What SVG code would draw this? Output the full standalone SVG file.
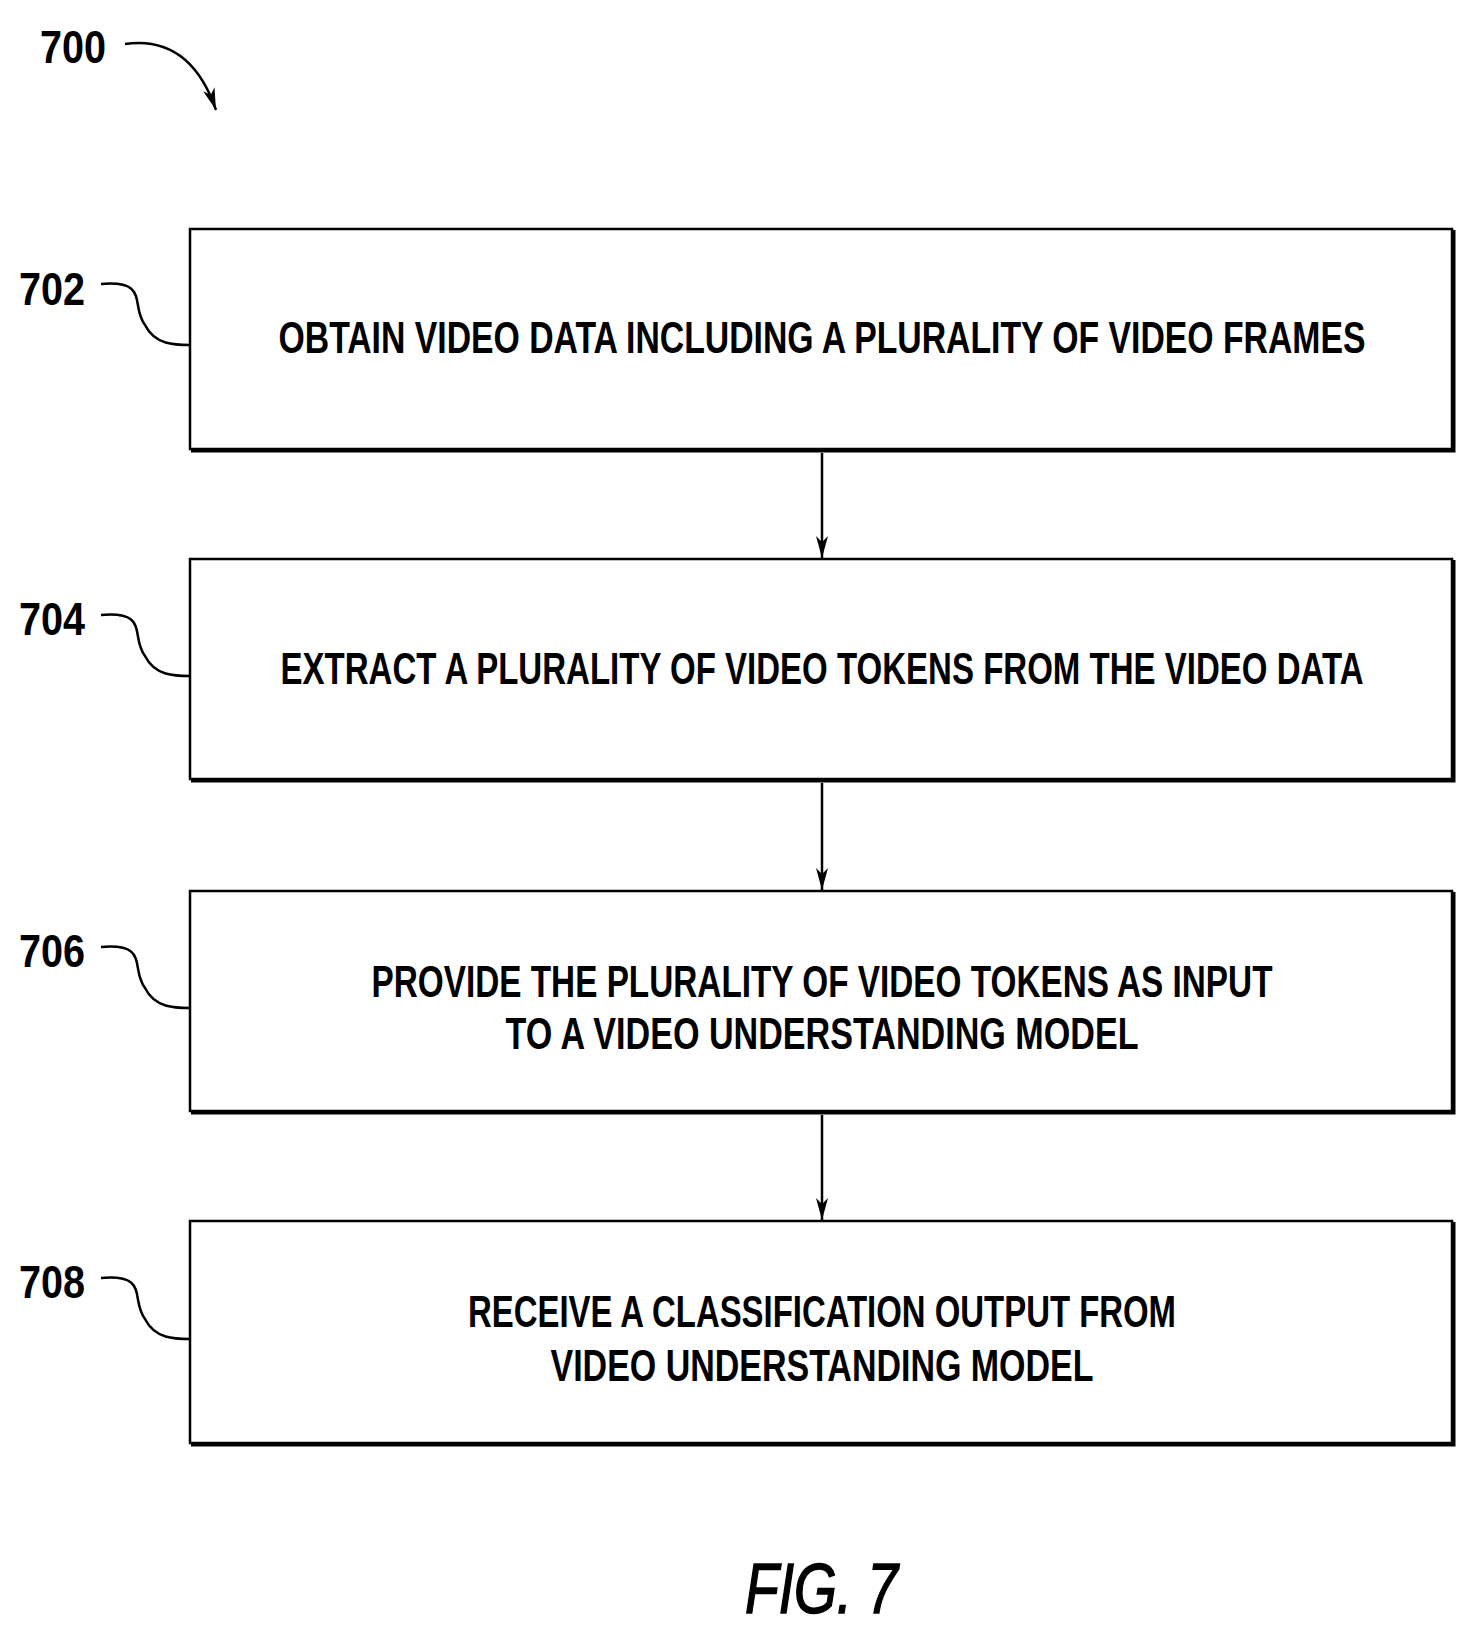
<svg xmlns="http://www.w3.org/2000/svg" width="1477" height="1637" viewBox="0 0 1477 1637">
<style>
.box{fill:#fff;stroke:#000;stroke-width:2.5}
.sh{fill:none;stroke:#000;stroke-width:3}
.t{font-family:"Liberation Sans",Arial,sans-serif;font-weight:bold;font-size:44px;text-anchor:middle}
.lbl{font-family:"Liberation Sans",Arial,sans-serif;font-weight:bold;font-size:46px}
.ld{fill:none;stroke:#000;stroke-width:2.5}
.c{stroke:#000;stroke-width:2.5;marker-end:url(#a)}
</style>
<defs><marker id="a" markerWidth="22" markerHeight="12" refX="22" refY="6" orient="auto" markerUnits="userSpaceOnUse" viewBox="0 0 22 12"><path d="M0,0 L22,6 L0,12 L6,6 Z" fill="#000"/></marker></defs>
<rect width="1477" height="1637" fill="#fff"/>
<text class="lbl" x="40" y="63" textLength="66" lengthAdjust="spacingAndGlyphs">700</text>
<path class="ld" d="M125,44 Q190,35 216,110" marker-end="url(#a)"/>
<g id="n702"><rect class="box" x="190" y="229" width="1262" height="220"/><path class="sh" d="M191,451 H1454 V230"/>
<text class="t" x="822" y="353" textLength="1087" lengthAdjust="spacingAndGlyphs">OBTAIN VIDEO DATA INCLUDING A PLURALITY OF VIDEO FRAMES</text>
<text class="lbl" x="19" y="305" textLength="66" lengthAdjust="spacingAndGlyphs">702</text>
<path class="ld" d="M101,284 C150,280 130,305 145,325 C155,345 175,345 190,345"/></g>
<g id="n704"><rect class="box" x="190" y="559" width="1262" height="220"/><path class="sh" d="M191,781 H1454 V560"/>
<text class="t" x="822" y="684" textLength="1083" lengthAdjust="spacingAndGlyphs">EXTRACT A PLURALITY OF VIDEO TOKENS FROM THE VIDEO DATA</text>
<text class="lbl" x="19" y="635" textLength="66" lengthAdjust="spacingAndGlyphs">704</text>
<path class="ld" d="M101,615 C150,611 130,636 145,656 C155,676 175,676 190,676"/></g>
<g id="n706"><rect class="box" x="190" y="891" width="1262" height="220"/><path class="sh" d="M191,1113 H1454 V892"/>
<text class="t" x="822" y="997" textLength="901" lengthAdjust="spacingAndGlyphs">PROVIDE THE PLURALITY OF VIDEO TOKENS AS INPUT</text>
<text class="t" x="822" y="1049" textLength="633" lengthAdjust="spacingAndGlyphs">TO A VIDEO UNDERSTANDING MODEL</text>
<text class="lbl" x="19" y="967" textLength="66" lengthAdjust="spacingAndGlyphs">706</text>
<path class="ld" d="M101,947 C150,943 130,968 145,988 C155,1008 175,1008 190,1008"/></g>
<g id="n708"><rect class="box" x="190" y="1221" width="1262" height="222"/><path class="sh" d="M191,1445 H1454 V1222"/>
<text class="t" x="822" y="1327" textLength="708" lengthAdjust="spacingAndGlyphs">RECEIVE A CLASSIFICATION OUTPUT FROM</text>
<text class="t" x="822" y="1381" textLength="543" lengthAdjust="spacingAndGlyphs">VIDEO UNDERSTANDING MODEL</text>
<text class="lbl" x="19" y="1298" textLength="66" lengthAdjust="spacingAndGlyphs">708</text>
<path class="ld" d="M101,1278 C150,1274 130,1299 145,1319 C155,1339 175,1339 190,1339"/></g>
<g id="connectors">
<line class="c" x1="822" y1="453" x2="822" y2="558"/>
<line class="c" x1="822" y1="783" x2="822" y2="890"/>
<line class="c" x1="822" y1="1115" x2="822" y2="1220"/>
</g>
<text x="745" y="1613" font-family="Liberation Sans,Arial,sans-serif" font-style="italic" font-size="70" stroke="#000" stroke-width="1.5" textLength="153" lengthAdjust="spacingAndGlyphs">FIG. 7</text>
</svg>
